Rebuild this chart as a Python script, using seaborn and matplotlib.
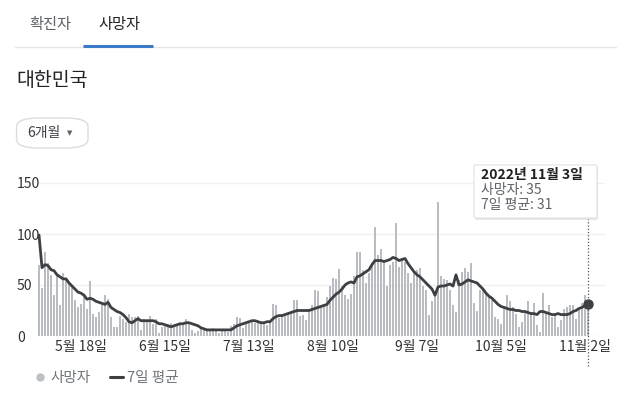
import numpy as np
import pandas as pd
import matplotlib
matplotlib.use("Agg")
import matplotlib.pyplot as plt
import seaborn as sns
from matplotlib.patches import FancyBboxPatch
from matplotlib.lines import Line2D

# ---------------- data (daily, 2022-05-04 .. 2022-11-03) ----------------
start_date = "2022-05-04"
deaths = [
    # May 4 - Jun 3
    70, 47, 82, 72, 60, 40, 62, 30, 62, 56, 52, 48, 35, 28, 31, 41, 26, 54, 22, 19,
    24, 32, 40, 36, 19, 9, 9, 20, 17, 14, 22,
    # Jun 4 - Jul 9
    19, 19, 20, 6, 17, 16, 20, 12, 17, 3, 9, 10, 12, 13, 9, 11, 12, 11, 17, 12,
    6, 3, 5, 7, 8, 7, 6, 8, 5, 3, 7, 6, 4, 10, 12, 19,
    # Jul 10 - Aug 3
    18, 8, 12, 15, 16, 13, 14, 12, 13, 11, 15, 31, 30, 18, 19, 20, 22, 25, 35, 35,
    20, 21, 16, 25, 30,
    # Aug 4 - Sep 4
    45, 44, 28, 30, 38, 49, 57, 56, 66, 49, 40, 36, 41, 59, 82, 82, 65, 52, 62, 72,
    107, 79, 85, 74, 49, 70, 73, 111, 68, 76, 73, 62,
    # Sep 5 - Oct 2
    52, 63, 65, 67, 49, 45, 21, 34, 42, 131, 59, 56, 55, 45, 30, 24, 55, 63, 67, 63,
    72, 32, 25, 45, 45, 42, 39, 35,
    # Oct 3 - Nov 3
    19, 17, 12, 29, 40, 34, 28, 22, 9, 14, 24, 34, 24, 32, 11, 4, 42, 24, 30, 19,
    22, 9, 16, 26, 28, 30, 30, 17, 27, 32, 40, 35,
]
avg7 = [
    99, 67, 70, 69, 65, 64, 60, 58, 56, 56, 52, 49, 46, 43, 42, 40, 36, 37, 36, 34,
    33, 32, 31, 33, 28, 26, 24, 23, 21, 18, 14, 13, 15, 17, 15, 15, 15, 15, 15, 14,
    12, 12, 11, 10, 9, 10, 11, 12, 12, 13, 13, 12, 11, 10, 8, 7, 6, 6, 6, 6,
    6, 6, 6, 6, 6, 8, 10, 11, 12, 13, 14, 15, 15, 14, 13, 13, 14, 14, 17, 19,
    20, 20, 21, 22, 23, 24, 25, 25, 25, 25, 25, 26, 27, 28, 29, 30, 31, 35, 38, 41,
    43, 46, 50, 52, 53, 52, 58, 59, 61, 63, 65, 70, 74, 74, 74, 73, 74, 75, 77, 76,
    74, 75, 76, 71, 67, 63, 60, 58, 55, 52, 49, 46, 40, 48, 49, 49, 50, 51, 49, 60,
    50, 51, 53, 55, 54, 53, 52, 49, 46, 42, 39, 37, 34, 31, 29, 28, 27, 26, 26, 25,
    25, 24, 24, 23, 22, 22, 21, 24, 24, 23, 22, 21, 21, 22, 21, 21, 21, 22, 24, 25,
    27, 28, 30, 31,
]
tick_dates = ["2022-05-18", "2022-06-15", "2022-07-13", "2022-08-10",
              "2022-09-07", "2022-10-05", "2022-11-02"]
tick_labels = ["5월 18일", "6월 15일", "7월 13일", "8월 10일", "9월 7일", "10월 5일", "11월 2일"]
y_ticks = [0, 50, 100, 150]
tabs = ["확진자", "사망자"]
region = "대한민국"
period = "6개월"
legend_labels = ["사망자", "7일 평균"]
tip_title = "2022년 11월 3일"

# ---------------- figure ----------------
sns.set_theme(style="white")
plt.rcParams["font.family"] = ["Noto Sans CJK KR", "DejaVu Sans"]

W, H = 617, 395
fig = plt.figure(figsize=(W / 100, H / 100), dpi=100)
fig.patch.set_facecolor("white")

def fx(px):
    return px / W

def fy(py):
    return 1 - py / H

days = np.arange(len(deaths))
df = pd.DataFrame({"day": days, "deaths": deaths, "avg": avg7})
t0 = pd.Timestamp(start_date)
tick_pos = [(pd.Timestamp(d) - t0).days for d in tick_dates]

ax_left, ax_right, ax_bottom = 38, 605, 336
ymax = 165
px_per_unit = 1.02
ax = fig.add_axes([fx(ax_left), fy(ax_bottom), (ax_right - ax_left) / W,
                   ymax * px_per_unit / H])

sns.barplot(data=df, x="day", y="deaths", native_scale=True, color="#b9bcc0",
            saturation=1, width=0.72, errorbar=None, linewidth=0, ax=ax, zorder=2)
sns.lineplot(data=df, x="day", y="avg", color="#3c4043", linewidth=2.0, ax=ax,
             zorder=3)
ax.plot(df["day"].iloc[-1], df["avg"].iloc[-1], "o", color="#3c4043", ms=6.5,
        zorder=4)

ax.set_xlim((ax_left - 39) / 3, (ax_right - 39) / 3)
ax.set_ylim(0, ymax)
ax.set_xlabel("")
ax.set_ylabel("")
for s in ax.spines.values():
    s.set_visible(False)

ax.set_yticks(y_ticks)
ax.set_yticklabels([str(v) for v in y_ticks])
for lab in ax.get_yticklabels():
    lab.set_horizontalalignment("left")
ax.tick_params(axis="y", length=0, pad=21 * 0.72, labelsize=10, labelcolor="#303134")
ax.set_xticks(tick_pos)
ax.set_xticklabels(tick_labels)
ax.tick_params(axis="x", length=0, pad=3, labelsize=10, labelcolor="#303134")
ax.yaxis.grid(True, color="#f0f0f0", linewidth=1, zorder=0)
ax.xaxis.grid(False)
ax.set_axisbelow(True)

# hover guide line
ax_h = ymax * px_per_unit
ax.axvline(days[-1], ymin=(ax_bottom - 366) / ax_h, ymax=(ax_bottom - 218) / ax_h,
           color="#555555", lw=0.9, ls=(0, (1, 1.6)), clip_on=False, zorder=5)

# ---------------- header ----------------
fig.text(fx(50), fy(24), tabs[0], ha="center", va="center", fontsize=11,
         color="#5f6368")
fig.text(fx(119), fy(24), tabs[1], ha="center", va="center", fontsize=11,
         color="#202124")
fig.add_artist(Line2D([fx(15), 1], [fy(47), fy(47)], color="#e6e6e6", lw=1))
fig.add_artist(Line2D([fx(83), fx(153)], [fy(45.5), fy(45.5)], color="#3a78c8",
                      lw=2.2, solid_capstyle="butt"))
fig.text(fx(16), fy(80), region, ha="left", va="center", fontsize=14,
         color="#202124")

btn = FancyBboxPatch((fx(16.5), fy(148)), fx(88) - fx(16.5), fy(118) - fy(148),
                     boxstyle="round,pad=0,rounding_size=0.035",
                     transform=fig.transFigure, facecolor="white",
                     edgecolor="#dadce0", lw=1, mutation_aspect=H / W * 1.0)
fig.add_artist(btn)
fig.text(fx(27), fy(133), period, ha="left", va="center", fontsize=10,
         color="#3c4043")
fig.text(fx(70), fy(133), "▼", ha="center", va="center", fontsize=5,
         color="#5f6368", family="DejaVu Sans")

# ---------------- legend ----------------
handles = [
    Line2D([], [], marker="o", ls="none", color="#bdc1c6", ms=5),
    Line2D([], [], color="#3c4043", lw=2.2),
]
leg = fig.legend(handles, legend_labels, loc="center left",
                 bbox_to_anchor=(fx(33), fy(378)), ncol=2, frameon=False,
                 handlelength=0.9, handletextpad=0.3, columnspacing=1.3,
                 fontsize=10.5, borderaxespad=0, borderpad=0)
for t in leg.get_texts():
    t.set_color("#70757a")

# ---------------- tooltip ----------------
shadow = FancyBboxPatch((fx(475), fy(220)), fx(597) - fx(474), fy(165) - fy(218),
                        boxstyle="round,pad=0,rounding_size=0.004",
                        transform=fig.transFigure, facecolor="#d8d8d8",
                        edgecolor="none", alpha=0.6, zorder=9)
fig.add_artist(shadow)
tip = FancyBboxPatch((fx(474), fy(218)), fx(597) - fx(474), fy(165) - fy(218),
                     boxstyle="round,pad=0,rounding_size=0.004",
                     transform=fig.transFigure, facecolor="white",
                     edgecolor="#e2e2e2", lw=0.8, zorder=10)
fig.add_artist(tip)
fig.text(fx(481), fy(175), tip_title, ha="left", va="center", fontsize=10,
         fontweight="bold", color="#202124", zorder=11)
fig.text(fx(481), fy(190), f"{legend_labels[0]}: {deaths[-1]}", ha="left",
         va="center", fontsize=10, color="#5f6368", zorder=11)
fig.text(fx(481), fy(205), f"{legend_labels[1]}: {avg7[-1]}", ha="left",
         va="center", fontsize=10, color="#5f6368", zorder=11)

fig.savefig("out.png", dpi=100, facecolor="white")
